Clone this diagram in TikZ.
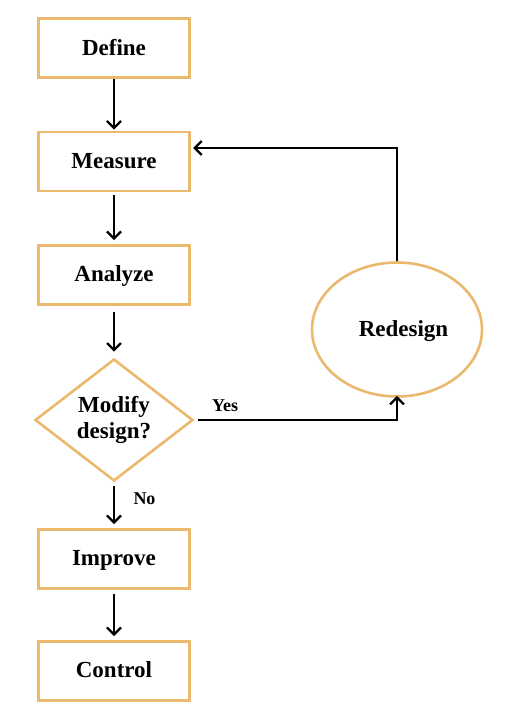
\documentclass[tikz,border=0pt]{standalone}
\usepackage{fontspec}
\setmainfont{Liberation Serif}
\usetikzlibrary{shapes.geometric,arrows.meta}
\definecolor{boxor}{RGB}{234,185,110}
\begin{document}
\begin{tikzpicture}[x=1pt,y=-1pt,
  txt/.style={font=\bfseries\fontsize{23}{27}\selectfont},
  stepbox/.style={txt,draw=boxor,line width=2.8pt,minimum width=151pt,minimum height=59pt,inner sep=0pt,text depth=2pt},
  decbox/.style={txt,draw=boxor,line width=2.6pt,shape=diamond,aspect=1.3,minimum width=158pt,minimum height=122pt,inner sep=0pt,align=center},
  ellbox/.style={txt,draw=boxor,line width=2.6pt,shape=ellipse,minimum width=170pt,minimum height=134pt,inner sep=0pt,text depth=2pt},
  conn/.style={line width=2.5pt,-{Straight Barb[length=7pt,width=14pt,line width=2.3pt]}},
  lbl/.style={font=\bfseries\fontsize{18}{21}\selectfont}]
\useasboundingbox (0,0) rectangle (528,719);
\node[stepbox] (define) at (114,48) {Define};
\node[stepbox] (measure) at (114,161.5) {Measure};
\node[stepbox] (analyze) at (114,275) {Analyze};
\node[decbox] (modify) at (114,420) {Modify\\[-1pt]design?};
\node[stepbox] (improve) at (114,559) {Improve};
\node[stepbox] (control) at (114,671) {Control};
\node[ellbox] (redesign) at (397,329.5) {\hspace{13pt}Redesign};
\coordinate (mright) at (193,148);
\coordinate (ytop) at (397,148);
\coordinate (ybot) at (397,420);
\draw[conn,shorten >=1pt] (define) -- (measure);
\draw[conn,shorten >=4pt,shorten <=3pt] (measure) -- (analyze);
\draw[conn,shorten <=6pt,shorten >=6pt] (analyze) -- (modify);
\draw[conn,shorten <=4pt,shorten >=4pt] (modify) -- (improve);
\draw[conn,shorten <=4pt,shorten >=4pt] (improve) -- (control);
\draw[conn] (modify.east) ++(4pt,0) -- (ybot) -- ([yshift=2pt]redesign.south);
\draw[conn] (redesign.north) -- (ytop) -- (mright);
\node[lbl] (yes) at (225,406) {Yes};
\node[lbl] (no) at (144.5,499) {No};
\end{tikzpicture}
\end{document}
